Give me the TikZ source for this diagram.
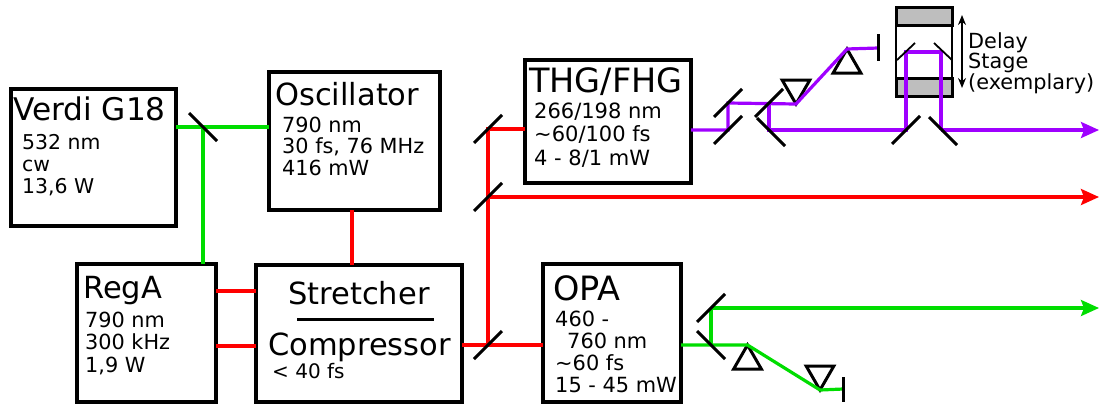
\documentclass[tikz,border=0pt]{standalone}
\usepackage{fontspec}
\setmainfont{DejaVu Sans}
\usepackage{xcolor}
\usetikzlibrary{arrows.meta,shapes.geometric}
\definecolor{beamred}{HTML}{FF0000}
\definecolor{beamgreen}{HTML}{00DD00}
\definecolor{beamviolet}{HTML}{9F00FF}
\definecolor{stagegray}{HTML}{BEBEBE}
\begin{document}
\begin{tikzpicture}[
  x=1pt,y=-1pt,
  box/.style={draw,line width=3.6pt,inner sep=0pt,outer sep=0pt},
  title/.style={anchor=base west,inner sep=0pt,font=\fontsize{30.5}{33}\selectfont},
  detail/.style={anchor=base west,inner sep=0pt,align=left,font=\fontsize{20.8}{21.5}\selectfont},
  redbeam/.style={draw=beamred,line width=3.2pt},
  greenbeam/.style={draw=beamgreen,line width=3.2pt},
  violetbeam/.style={draw=beamviolet,line width=3.2pt},
  outbeam/.style={-{Stealth[length=18pt,width=16pt,inset=3pt]}},
  mirror/.style={draw,line width=3pt},
  prismup/.style={draw,line width=3pt,regular polygon,regular polygon sides=3,
                  minimum size=32pt,inner sep=0pt,outer sep=0pt},
  prismdown/.style={prismup,shape border rotate=180}
]
\useasboundingbox (0,0) rectangle (1099,405);

% beam points
\coordinate (mv) at (203,127);
\coordinate (mr1) at (488,129);
\coordinate (mr2) at (488,197);
\coordinate (mr3) at (488,345);
\coordinate (mo1) at (711,345);
\coordinate (mo2) at (711,308);
\coordinate (mt1) at (728,130);
\coordinate (mt2) at (728,103);
\coordinate (mt3) at (769,103);
\coordinate (mt4) at (769,130);
\coordinate (mt5) at (906,130);
\coordinate (mt6) at (941,130);
\coordinate (st1) at (906,52);
\coordinate (st2) at (941,52);
\coordinate (endred) at (1099,197);
\coordinate (endgreen) at (1099,308);
\coordinate (endviolet) at (1099,130);
\coordinate (stopo) at (843,389);
\coordinate (stopt) at (878,48);

% boxes
\node[box,minimum width=165pt,minimum height=137pt] (verdi) at (93.5,157.5) {};
\node[box,minimum width=171pt,minimum height=138pt] (osc) at (354.5,141) {};
\node[box,minimum width=139pt,minimum height=138pt] (rega) at (146.5,333) {};
\node[box,minimum width=206pt,minimum height=137pt] (comp) at (359,333.5) {};
\node[box,minimum width=166pt,minimum height=123pt] (thg) at (608,121.5) {};
\node[box,minimum width=138pt,minimum height=138pt] (opa) at (612,333) {};

% delay stage
\node[draw,line width=1.8pt,minimum width=56pt,minimum height=89pt,inner sep=0pt] (stage) at (924,51.5) {};
\node[box,line width=3pt,fill=stagegray,minimum width=56pt,minimum height=18pt] (stagetop) at (924,16) {};
\node[box,line width=3pt,fill=stagegray,minimum width=56pt,minimum height=18pt] (stagebot) at (924,87) {};

% prisms
\node[prismdown] (pt1) at (796,88) {};
\node[prismup] (pt2) at (847,65) {};
\node[prismup] (po1) at (747.5,361) {};
\node[prismdown] (po2) at (820,374) {};

% beams
\draw[greenbeam] (verdi.east |- mv) -- (mv) -- (osc.west |- mv);
\draw[greenbeam] (mv) -- (mv |- rega.north);
\draw[redbeam] (352,0 |- osc.south) -- (352,0 |- comp.north);
\draw[redbeam] (rega.east |- 0,291) -- (comp.west |- 0,291);
\draw[redbeam] (rega.east |- 0,346) -- (comp.west |- 0,346);
\draw[redbeam] (comp.east |- mr3) -- (mr3) -- (opa.west |- mr3);
\draw[redbeam] (mr3) -- (mr1) -- (thg.west |- mr1);
\draw[redbeam,outbeam] (mr2) -- (endred);
\draw[greenbeam] (opa.east |- mo1) -- (po1.north) -- (po2.south) -- (stopo);
\draw[greenbeam] (mo1) -- (mo2);
\draw[greenbeam,outbeam] (mo2) -- (endgreen);
\draw[violetbeam] (thg.east |- mt1) -- (mt1) -- (mt2) -- (pt1.south) -- (pt2.north) -- (stopt);
\draw[violetbeam] (mt3) -- (mt4) -- (mt5) -- (st1) -- (st2) -- (mt6);
\draw[violetbeam,outbeam] (mt6) -- (endviolet);

% mirrors
\draw[mirror] (mv) ++(-14,-14) -- ++(28,28);
\foreach \m in {mr1,mr2,mr3,mo2,mt1,mt2,mt3,mt5}
  \draw[mirror] (\m) ++(-14,14) -- ++(28,-28);
\draw[mirror] (mo1) ++(-14,-14) -- ++(28,28);
\draw[mirror] (771,132) ++(-14,-14) -- ++(28,28);
\draw[mirror] (943,131) ++(-14,-14) -- ++(28,28);
\draw[line width=1.8pt] (897,60) -- (915,43);
\draw[line width=1.8pt] (934,43) -- (952,60);
\draw[{Stealth[length=10pt,width=8pt]}-{Stealth[length=10pt,width=8pt]},line width=1.4pt] (962,15) -- (962,88);
\draw[line width=3pt] (297,319) -- (434,319);
\draw[line width=3pt] (stopo |- 0,377) -- (stopo |- 0,402);
\draw[line width=3pt] (stopt |- 0,34) -- (stopt |- 0,61);

% labels
\node[title,font=\fontsize{31.2}{33}\selectfont] (verdit) at (13,120) {Verdi G18};
\node[detail,font=\fontsize{20.4}{22}\selectfont] (verdid) at (22,193) {532 nm\\cw\\13,6 W};
\node[title] (osct) at (275,105) {Oscillator};
\node[detail] (oscd) at (282,175) {790 nm\\30 fs, 76 MHz\\416 mW};
\node[title] (regat) at (83,298) {RegA};
\node[detail,font=\fontsize{20.8}{22.5}\selectfont] (regad) at (85,372) {790 nm\\300 kHz\\1,9 W};
\node[title] (stretch) at (288,304) {Stretcher};
\node[title] (compt) at (268,355) {Compressor};
\node[detail,font=\fontsize{20}{21}\selectfont] (compd) at (272,378) {< 40 fs};
\node[title,font=\fontsize{33.5}{33}\selectfont] (thgt) at (529,92) {THG/FHG};
\node[detail,font=\fontsize{21}{23.5}\selectfont] (thgd) at (534,165) {266/198 nm\\\textasciitilde60/100 fs\\4 - 8/1 mW};
\node[title,font=\fontsize{33.5}{33}\selectfont] (opat) at (553,300) {OPA};
\node[detail,font=\fontsize{20.9}{21.7}\selectfont] (opad) at (555,392) {460 -\\\hspace*{12pt}760 nm\\\textasciitilde60 fs\\15 - 45 mW};
\node[detail,font=\fontsize{20.8}{20.5}\selectfont] (staget) at (968,89) {Delay\\Stage\\(exemplary)};
\end{tikzpicture}
\end{document}
